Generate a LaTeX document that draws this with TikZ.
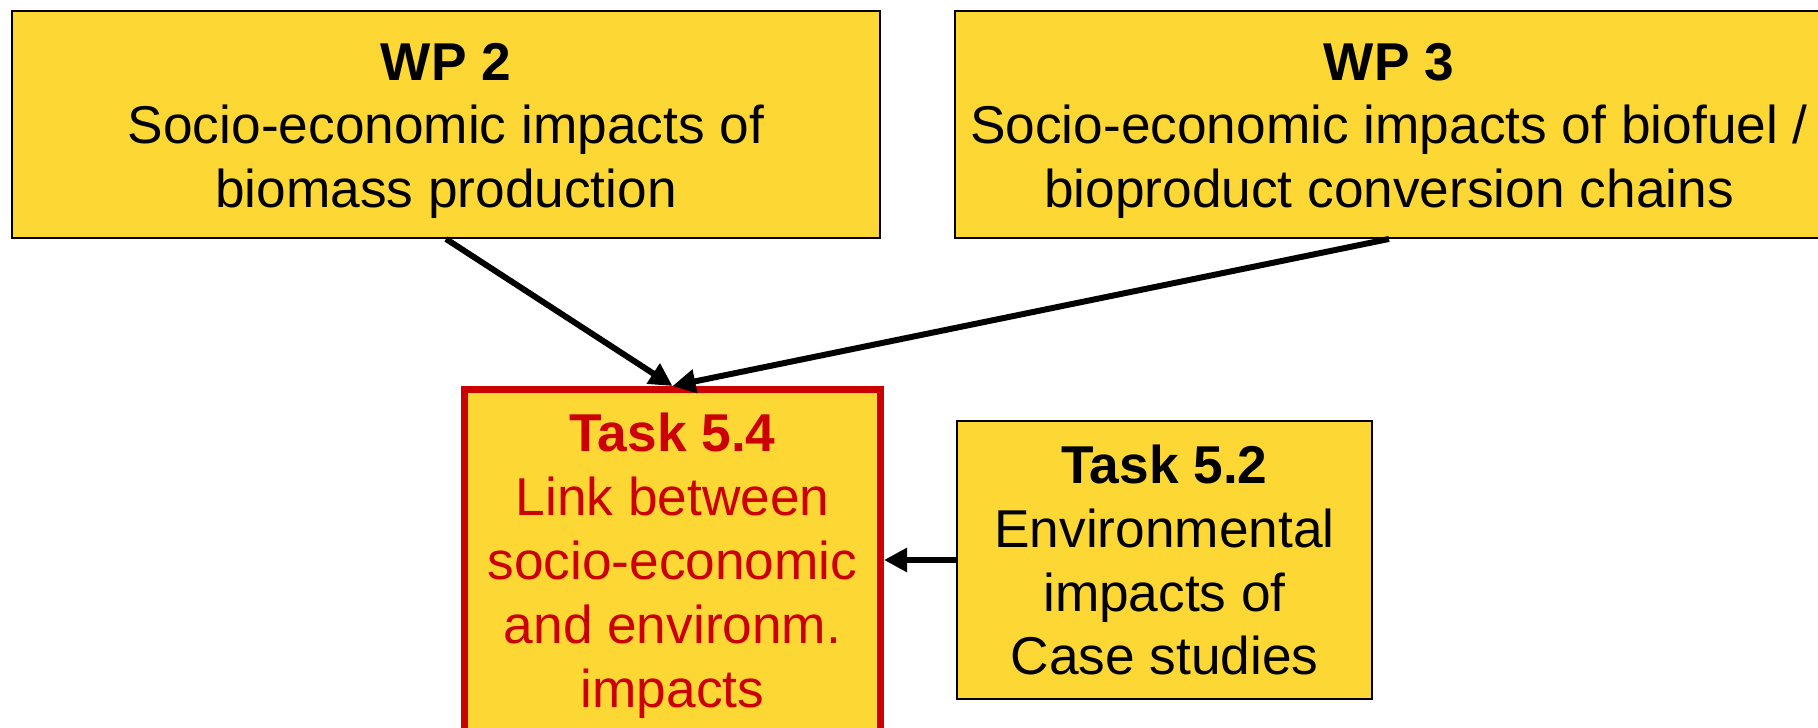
\documentclass[tikz,border=0pt]{standalone}
\usepackage{fontspec}
\setmainfont{Liberation Sans}
\usetikzlibrary{arrows.meta,positioning}
\definecolor{wpyellow}{RGB}{253,216,53}
\definecolor{taskred}{RGB}{204,0,0}
\newcommand{\wpstrut}{\rule{0pt}{1.0cm}}
\tikzset{
    wp/.style={rectangle, draw, line width=1.1pt, fill=wpyellow, minimum width=17.35cm, minimum height=4.54cm, inner sep=1pt, align=center, font=\fontsize{30.3}{36.4}\selectfont},
    task/.style={rectangle, draw, line width=1.1pt, fill=wpyellow, minimum width=8.3cm, minimum height=5.56cm, inner sep=1pt, align=center, font=\fontsize{30.3}{36.4}\selectfont},
    focus/.style={task, draw=taskred, text=taskred, line width=4pt, minimum width=8.32cm, minimum height=7.04cm},
    link/.style={-{Triangle[length=0.46cm, width=0.46cm]}, line width=3.4pt}
}

\begin{document}
\begin{tikzpicture}
    \clip (0,0) rectangle (36.36,14.54);
    \fill[white] (0,0) rectangle (36.36,14.54);

    \node[wp] (WP2) at (8.92, 12.05) {\wpstrut\textbf{WP 2}\\Socio-economic impacts of\\biomass production};
    \node[wp] (WP3) at (27.78, 12.05) {\wpstrut\textbf{WP 3}\\Socio-economic impacts of biofuel /\\bioproduct conversion chains};
    \node[focus] (T54) at (13.45, 3.23) {\textbf{Task 5.4}\\Link between\\socio-economic\\and environm.\\impacts};
    \node[task] (T52) at (23.29, 3.34) {\textbf{Task 5.2}\\Environmental\\impacts of\\Case studies};

    \draw[link] (WP2.south) -- (T54.north);
    \draw[link] (WP3.south) -- (T54.north);
    \draw[link] (T52.west) -- (T52.west -| T54.east);
\end{tikzpicture}
\end{document}
